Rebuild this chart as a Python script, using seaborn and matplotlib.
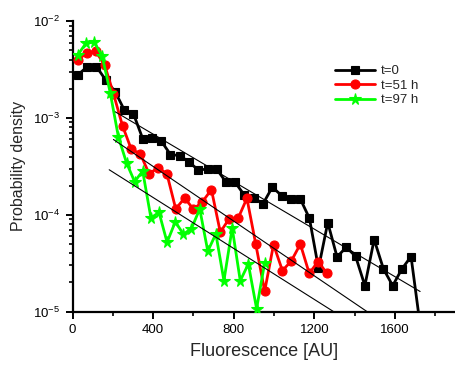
import numpy as np
import pandas as pd
import matplotlib
matplotlib.use("Agg")
import matplotlib.pyplot as plt
import seaborn as sns
from matplotlib.ticker import FixedLocator, MultipleLocator, LogLocator, NullFormatter

# ---- data ----
x_t0 = [27, 73, 119, 165, 211, 257, 302, 348, 394, 440, 486, 532, 578, 624, 670, 716,
        761, 807, 853, 899, 945, 991, 1037, 1083, 1129, 1175, 1220, 1266, 1312, 1358,
        1404, 1450, 1496, 1542, 1588, 1634, 1679, 1725]
y_t0 = [2.80e-3, 3.39e-3, 3.39e-3, 2.47e-3, 1.88e-3, 1.21e-3, 1.11e-3, 6.13e-4, 6.22e-4,
        5.79e-4, 4.19e-4, 4.09e-4, 3.51e-4, 2.90e-4, 2.97e-4, 2.95e-4, 2.18e-4, 2.16e-4,
        1.59e-4, 1.50e-4, 1.30e-4, 1.93e-4, 1.58e-4, 1.47e-4, 1.47e-4, 9.2e-5, 2.80e-5,
        8.3e-5, 3.67e-5, 4.62e-5, 3.72e-5, 1.85e-5, 5.55e-5, 2.76e-5, 1.85e-5, 2.76e-5,
        3.70e-5, 7.0e-6]

x_t51 = [27, 71, 115, 159, 203, 248, 292, 336, 380, 424, 468, 512, 556, 600, 644, 689,
         733, 777, 821, 865, 909, 953, 997, 1041, 1085, 1130, 1174, 1218, 1262]
y_t51 = [3.97e-3, 4.75e-3, 4.89e-3, 3.55e-3, 1.79e-3, 8.32e-4, 4.73e-4, 4.29e-4, 2.65e-4,
         3.06e-4, 2.66e-4, 1.15e-4, 1.49e-4, 1.14e-4, 1.36e-4, 1.82e-4, 6.61e-5, 9.10e-5,
         9.16e-5, 1.48e-4, 4.96e-5, 1.62e-5, 4.92e-5, 2.65e-5, 3.32e-5, 4.98e-5, 2.48e-5,
         3.28e-5, 2.48e-5]

x_t97 = [26, 66, 107, 147, 187, 228, 268, 308, 348, 389, 429, 469, 510, 550, 590, 631,
         671, 711, 751, 792, 832, 872, 913, 953]
y_t97 = [4.48e-3, 5.91e-3, 6.10e-3, 4.41e-3, 1.83e-3, 6.32e-4, 3.44e-4, 2.20e-4, 2.83e-4,
         9.27e-5, 1.06e-4, 5.20e-5, 8.47e-5, 6.29e-5, 7.21e-5, 1.15e-4, 4.20e-5, 6.35e-5,
         2.08e-5, 7.30e-5, 2.08e-5, 3.10e-5, 1.07e-5, 3.17e-5]

# exponential fit lines (end points)
fit1_x = [212, 1724]
fit1_y = [1.16e-3, 1.61e-5]
fit2_x = [203, 1460]
fit2_y = [6.0e-4, 1.0e-5]
fit3_x = [182, 1294]
fit3_y = [2.92e-4, 1.0e-5]

labels = ["t=0", "t=51 h", "t=97 h"]
colors = ["#000000", "#ff0000", "#00ff00"]
markers = ["s", "o", "*"]
msizes = [5.5, 6.5, 8.5]

x_ticks = [0, 400, 800, 1200, 1600]
y_ticks = [1e-5, 1e-4, 1e-3, 1e-2]
y_ticklabels = [r"$\mathregular{10^{-5}}$", r"$\mathregular{10^{-4}}$",
                r"$\mathregular{10^{-3}}$", r"$\mathregular{10^{-2}}$"]

sns.set_style("ticks")
plt.rcParams["font.family"] = ["Liberation Sans", "DejaVu Sans"]
plt.rcParams["mathtext.fontset"] = "custom"
plt.rcParams["mathtext.rm"] = "Liberation Sans"
plt.rcParams["mathtext.it"] = "Liberation Sans:italic"
plt.rcParams["mathtext.bf"] = "Liberation Sans:bold"

W, H = 455, 369
fig = plt.figure(figsize=(W / 100, H / 100), dpi=100)
ax = fig.add_axes([72.5 / W, (H - 311.5) / H, (W - 72.5) / W, (311.5 - 21.3) / H])

series = [(x_t0, y_t0), (x_t51, y_t51), (x_t97, y_t97)]
for (xs, ys), lab, col, mk, ms in zip(series, labels, colors, markers, msizes):
    df = pd.DataFrame({"x": xs, "y": ys})
    sns.lineplot(data=df, x="x", y="y", ax=ax, color=col, marker=mk, markersize=ms,
                 markeredgecolor=col, markeredgewidth=0.8, linewidth=2.0,
                 label=lab, sort=False, estimator=None, zorder=3)

for fx, fy in [(fit1_x, fit1_y), (fit2_x, fit2_y), (fit3_x, fit3_y)]:
    ax.plot(fx, fy, color="black", linewidth=0.8, zorder=4)

ax.set_yscale("log")
ax.set_xlim(0, 1897)
ax.set_ylim(1e-5, 1e-2)

ax.xaxis.set_major_locator(FixedLocator(x_ticks))
ax.xaxis.set_minor_locator(MultipleLocator(200))
ax.set_yticks(y_ticks)
ax.set_yticklabels(y_ticklabels)
ax.yaxis.set_minor_locator(LogLocator(base=10, subs=np.arange(2, 10)))
ax.yaxis.set_minor_formatter(NullFormatter())

for s in ["top", "right"]:
    ax.spines[s].set_visible(False)
for s in ["left", "bottom"]:
    ax.spines[s].set_linewidth(1.6)
    ax.spines[s].set_color("black")

ax.tick_params(which="major", direction="out", length=5, width=1.4, labelsize=9.5,
               colors="black", pad=4)
ax.tick_params(which="minor", direction="out", length=3, width=1.2, colors="black")

ax.set_xlabel("Fluorescence [AU]", fontsize=13, labelpad=5)
ax.set_ylabel("Probability density", fontsize=11.5, labelpad=5)

leg = ax.legend(loc="upper left", bbox_to_anchor=(335 / W, 1 - 65 / H),
                bbox_transform=fig.transFigure, frameon=False, fontsize=9.5,
                handlelength=3.0, handletextpad=0.5, labelspacing=0.18,
                borderpad=0, borderaxespad=0, numpoints=1)

fig.savefig("out.png", dpi=100)
